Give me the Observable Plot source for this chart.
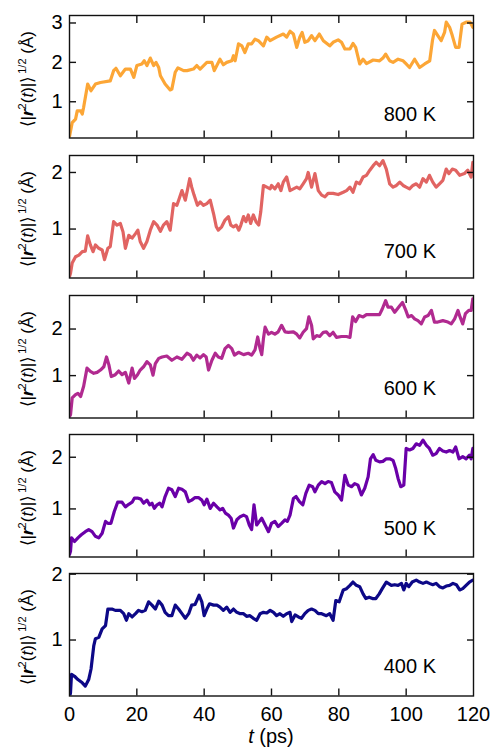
<!DOCTYPE html>
<html><head><meta charset="utf-8">
<script src="https://cdn.jsdelivr.net/npm/d3@7"></script>
<script src="https://cdn.jsdelivr.net/npm/@observablehq/plot@0.6"></script>
<style>
body{margin:0;background:#fff;}
#chart{position:relative;width:494px;height:749px;font-family:"Liberation Sans",Arial,sans-serif;}
#chart svg{position:absolute;left:0;}
</style></head><body><div id="chart"></div>
<script>
// [t (ps), sqrt(<|r^2(t)|>) (Å)]
const s800 = [[0,0.12],[0.8,0.47],[1.8,0.56],[2.3,0.77],[3.3,0.77],[3.8,0.69],[4.2,0.86],[5.4,1.45],[6.4,1.28],[7.7,1.45],[9.2,1.49],[12.1,1.53],[13.1,1.79],[13.8,1.85],[15.1,1.66],[16.6,1.83],[18.1,1.83],[19.1,1.62],[20,1.92],[21.5,1.96],[22.2,2.04],[23,1.92],[24,2.11],[25,1.92],[25.7,2.00],[26.5,1.87],[27,1.66],[28.4,1.45],[29.9,1.30],[30.4,1.32],[31.4,1.75],[32.2,1.86],[33.9,1.79],[34.9,1.79],[36.8,1.83],[37.8,1.92],[38.8,1.83],[40.8,2.00],[42.3,2.00],[43,1.79],[44.7,2.08],[45.7,1.94],[46.7,2.00],[48.2,2.04],[48.7,2.17],[49.2,2.04],[50.2,2.47],[51.2,2.42],[52.1,2.25],[53.1,2.47],[54.1,2.47],[55.1,2.59],[56.1,2.55],[57.6,2.42],[58.6,2.64],[59.6,2.55],[61.5,2.64],[63.5,2.72],[64.5,2.64],[65.5,2.79],[66.5,2.72],[67.5,2.38],[68.4,2.64],[69.1,2.76],[69.9,2.51],[70.9,2.55],[71.9,2.68],[72.9,2.55],[74.2,2.72],[75.4,2.55],[77.3,2.42],[78.3,2.51],[79.8,2.57],[80.8,2.51],[81.8,2.34],[83.3,2.34],[84.2,2.48],[85,2.38],[86.2,1.96],[87.2,2.08],[88.2,1.97],[90.2,2.06],[92.1,2.04],[93.1,2.11],[93.9,2.21],[95.1,2.04],[96.1,2.00],[97.6,2.08],[99.1,2.04],[100,1.96],[101,1.87],[102.5,2.08],[104,1.87],[105.5,1.96],[107,2.04],[107.8,2.55],[108.4,2.81],[109.4,2.68],[110.4,2.55],[111.4,2.76],[111.9,3.02],[112.9,2.89],[113.7,2.68],[114.7,2.38],[115.7,2.38],[116.6,2.97],[117.8,3.02],[119,3.02],[119.8,2.89],[120,2.89]];
const s700 = [[0,0.16],[0.3,0.22],[0.8,0.40],[1.8,0.51],[2.8,0.54],[3.8,0.60],[4.7,0.61],[5.4,0.88],[6.2,0.72],[7.0,0.60],[7.7,0.72],[8.7,0.66],[9.7,0.63],[10.4,0.46],[11.4,0.66],[12.1,0.69],[13.1,1.13],[14.1,1.07],[15.1,1.10],[15.9,0.95],[16.6,0.66],[17.6,0.89],[18.6,0.84],[19.6,0.92],[20.3,0.98],[21.0,0.78],[22.0,0.66],[23.0,0.78],[24.0,0.98],[25.0,1.13],[26.0,1.07],[27.0,0.96],[27.9,1.07],[28.9,1.13],[29.9,0.98],[30.9,1.45],[31.9,1.42],[32.6,1.54],[33.4,1.68],[34.4,1.51],[35.1,1.71],[35.7,1.89],[36.3,1.74],[37.0,1.60],[38.0,1.42],[38.8,1.48],[39.8,1.42],[40.8,1.45],[41.8,1.51],[42.8,1.27],[43.6,1.04],[44.2,0.98],[45.2,1.04],[46.2,1.16],[47.2,1.22],[47.9,1.07],[48.7,1.04],[49.5,1.07],[50.3,0.98],[50.9,1.07],[51.7,1.22],[52.4,1.13],[53.1,1.25],[53.8,1.10],[54.6,1.25],[55.4,1.13],[56.2,1.07],[56.8,1.30],[57.6,1.77],[58.6,1.74],[59.6,1.71],[60.0,1.77],[61.0,1.71],[62.0,1.80],[62.8,1.68],[63.5,1.83],[64.5,1.92],[65.5,1.68],[66.5,1.71],[67.5,1.74],[68.4,1.71],[69.4,1.80],[70.4,1.89],[70.9,2.00],[71.9,1.74],[72.9,1.98],[73.9,1.68],[74.9,1.60],[75.9,1.57],[76.8,1.63],[78.3,1.63],[79.8,1.61],[81.3,1.65],[82.3,1.68],[83.3,1.74],[84.2,1.65],[85.2,1.83],[86.2,1.80],[87.2,1.92],[88.2,1.95],[89.2,2.04],[90.2,2.12],[91.1,2.18],[92.1,2.12],[93.1,2.21],[94.1,2.06],[95.1,1.80],[96.1,1.74],[97.1,1.77],[98.1,1.83],[99.1,1.77],[100.0,1.74],[101.0,1.71],[102.0,1.77],[103.0,1.80],[104.0,1.74],[105.0,1.89],[106.0,1.83],[106.9,1.95],[107.9,1.83],[108.9,1.74],[109.9,1.80],[110.9,1.86],[111.9,2.06],[112.7,1.98],[113.7,2.06],[114.7,2.04],[115.9,1.95],[117.3,1.98],[118.3,2.04],[119.3,1.92],[119.8,2.18],[120,2.18]];
const s600 = [[0,0.12],[0.3,0.16],[0.8,0.52],[1.8,0.59],[2.5,0.62],[3.3,0.55],[4.2,0.77],[5.2,1.16],[6.2,1.09],[7.2,1.05],[8.2,1.07],[9.2,1.12],[10.2,1.19],[11.0,1.40],[11.7,1.23],[12.4,0.98],[13.6,1.02],[14.6,1.10],[15.6,1.02],[16.6,1.07],[17.6,0.84],[18.6,1.16],[19.3,0.94],[20.2,1.02],[21.0,1.12],[22.0,1.19],[23.0,1.30],[24.0,1.23],[24.8,1.01],[25.5,1.26],[26.5,1.37],[27.5,1.40],[28.9,1.42],[30.4,1.33],[31.9,1.40],[33.4,1.35],[34.9,1.48],[35.9,1.44],[36.8,1.33],[37.8,1.44],[38.8,1.38],[39.8,1.45],[40.6,1.40],[41.3,1.12],[42.3,1.33],[43.3,1.48],[44.2,1.40],[45.2,1.37],[46.2,1.58],[47.2,1.65],[48.2,1.58],[49.0,1.44],[50.2,1.50],[51.7,1.45],[53.1,1.48],[54.1,1.44],[55.1,1.55],[55.9,1.83],[56.6,1.58],[57.1,1.45],[57.6,1.79],[58.1,2.04],[59.1,1.89],[60.0,1.93],[61.0,1.89],[62.0,1.94],[63.0,2.08],[64.0,1.94],[65.0,1.93],[66.5,1.94],[67.5,1.89],[68.4,1.81],[69.4,1.93],[70.4,2.01],[71.1,2.26],[71.9,2.08],[72.4,1.79],[73.4,1.86],[74.3,1.84],[75.4,1.93],[76.3,1.94],[77.3,1.86],[78.3,1.93],[79.3,1.82],[80.8,1.84],[82.3,1.84],[83.3,1.82],[84.1,2.26],[85.0,2.16],[86.0,2.29],[87.2,2.26],[88.2,2.31],[89.6,2.31],[91.1,2.31],[92.1,2.31],[92.9,2.43],[93.9,2.61],[94.6,2.47],[95.6,2.47],[96.6,2.36],[98.1,2.50],[98.9,2.57],[99.9,2.40],[100.6,2.26],[101.6,2.29],[102.5,2.22],[103.5,2.18],[104.5,2.11],[105.5,2.26],[106.5,2.29],[107.5,2.40],[108.4,2.15],[109.4,2.15],[110.9,2.18],[112.4,2.15],[113.4,2.11],[114.4,2.22],[115.4,2.40],[116.0,2.26],[116.8,2.11],[117.6,2.33],[118.6,2.40],[119.3,2.40],[119.8,2.65],[120,2.65]];
const s500 = [[0,0.12],[0.3,0.18],[0.6,0.44],[1.5,0.37],[2.5,0.44],[3.5,0.50],[4.7,0.56],[5.7,0.60],[6.7,0.56],[7.7,0.47],[8.7,0.44],[9.7,0.53],[10.7,0.76],[11.4,0.72],[12.3,0.72],[13.3,0.95],[14.3,1.13],[15.6,1.13],[16.6,1.04],[17.6,1.09],[18.6,1.13],[19.3,1.21],[20.2,1.21],[21.2,1.19],[22.0,1.11],[23.0,1.17],[23.8,1.08],[24.5,1.11],[25.2,1.01],[26.0,1.08],[26.8,1.11],[27.5,1.04],[28.4,1.24],[29.4,1.40],[30.4,1.37],[31.4,1.24],[32.4,1.40],[33.4,1.38],[34.4,1.33],[35.4,1.14],[36.3,1.17],[37.3,1.22],[38.3,1.22],[39.3,1.17],[40.0,1.08],[40.8,1.19],[41.8,1.01],[42.8,1.11],[43.8,1.04],[44.7,0.98],[45.5,1.01],[46.3,0.92],[47.2,0.88],[48.0,0.82],[48.7,0.63],[49.7,0.79],[50.7,0.85],[51.7,0.88],[52.6,0.85],[53.4,0.69],[54.1,0.60],[54.8,1.08],[55.6,0.69],[56.4,0.76],[57.1,0.82],[58.1,0.69],[59.1,0.56],[60.0,0.72],[61.0,0.76],[62.0,0.66],[63.0,0.72],[64.0,0.79],[64.7,0.76],[65.5,0.88],[66.5,1.20],[67.3,1.24],[68.3,1.14],[69.3,1.08],[70.2,1.30],[71.2,1.46],[72.2,1.43],[72.9,1.33],[73.9,1.46],[74.9,1.53],[75.9,1.49],[76.8,1.53],[77.8,1.51],[78.8,1.33],[79.8,1.27],[80.8,1.17],[81.8,1.65],[82.8,1.46],[83.8,1.43],[84.7,1.49],[85.7,1.46],[86.7,1.27],[87.7,1.40],[88.7,1.62],[89.4,1.97],[90.2,2.05],[91.0,1.94],[92.1,1.91],[93.1,1.92],[94.1,1.97],[95.1,1.97],[96.1,1.94],[96.9,1.78],[97.6,1.59],[98.4,1.43],[99.3,1.46],[100.0,2.17],[101.0,2.14],[102.0,2.17],[103.0,2.26],[104.0,2.23],[105.0,2.33],[106.0,2.23],[106.9,2.17],[107.9,2.04],[108.9,2.07],[109.9,2.17],[110.9,2.12],[111.9,2.10],[112.9,2.13],[113.9,2.10],[114.7,2.20],[115.7,1.97],[116.8,2.01],[117.8,1.97],[118.8,2.04],[119.3,1.97],[119.8,2.17],[120,2.17]];
const s400 = [[0,0.12],[0.3,0.20],[0.6,0.48],[1.5,0.45],[2.5,0.40],[3.8,0.35],[4.7,0.30],[5.7,0.40],[6.4,0.56],[7.2,0.91],[7.7,1.02],[8.7,1.04],[9.7,1.17],[10.7,1.22],[11.4,1.47],[12.6,1.47],[13.6,1.45],[15.1,1.45],[16.1,1.40],[16.9,1.30],[17.6,1.40],[18.6,1.35],[19.6,1.40],[20.5,1.45],[21.5,1.43],[22.5,1.45],[23.5,1.58],[24.5,1.53],[25.5,1.47],[26.5,1.59],[27.5,1.53],[28.4,1.42],[29.4,1.37],[30.4,1.37],[31.4,1.53],[32.4,1.47],[33.4,1.40],[34.4,1.33],[35.4,1.40],[36.3,1.53],[37.3,1.54],[37.8,1.60],[38.5,1.68],[39.3,1.58],[40.0,1.37],[40.8,1.47],[41.6,1.55],[42.8,1.53],[43.8,1.53],[44.7,1.50],[45.7,1.45],[46.7,1.50],[47.7,1.42],[48.7,1.47],[49.7,1.42],[50.7,1.40],[51.7,1.40],[52.6,1.36],[53.6,1.37],[54.6,1.33],[55.6,1.30],[56.6,1.40],[57.6,1.42],[58.6,1.41],[59.6,1.45],[60.6,1.42],[61.5,1.37],[62.5,1.40],[63.5,1.36],[64.5,1.40],[65.5,1.42],[66.0,1.28],[67.0,1.38],[68.0,1.35],[68.9,1.33],[69.9,1.40],[70.9,1.45],[71.9,1.47],[72.9,1.45],[73.9,1.40],[74.9,1.40],[76.3,1.37],[77.3,1.40],[78.3,1.30],[79.1,1.60],[80.1,1.58],[81.3,1.76],[82.3,1.78],[83.3,1.83],[84.2,1.88],[85.2,1.83],[86.2,1.81],[87.2,1.70],[88.0,1.63],[89.0,1.65],[90.0,1.63],[91.0,1.63],[92.0,1.70],[92.9,1.78],[94.1,1.88],[95.6,1.83],[96.6,1.84],[97.6,1.83],[98.6,1.86],[99.3,1.76],[100.0,1.86],[100.8,1.81],[101.8,1.88],[103.0,1.91],[104.0,1.88],[105.0,1.86],[106.0,1.88],[106.9,1.86],[107.9,1.84],[108.9,1.86],[109.9,1.81],[110.9,1.79],[111.9,1.82],[112.9,1.83],[113.9,1.86],[114.9,1.84],[115.9,1.76],[116.8,1.78],[117.8,1.83],[118.8,1.88],[119.8,1.91],[120,1.91]];

const series = [s800, s700, s600, s500, s400];
const labels = ["800 K", "700 K", "600 K", "500 K", "400 K"];
const colors = ["#fca636", "#e16462", "#b12a90", "#6a00a8", "#0d0887"];
const yDomains = [[0.08, 3.19], [0.135, 2.30], [0.09, 2.72], [0.07, 2.44], [0.15, 2.01]];
const yTicks = [[1, 2, 3], [1, 2], [1, 2], [1, 2], [1, 2]];
const xTicks = [0, 20, 40, 60, 80, 100, 120];
const xInner = [20, 40, 60, 80, 100];

// layout
const frameTops = [15, 155, 295, 434, 573];
const innerH = 122.5;
const mt = 10;
const labelDy = [-23, -26.5, -29, -28, -29];
const TK = 7;

const chart = document.getElementById("chart");

series.forEach((s, i) => {
  const last = i === series.length - 1;
  const mb = last ? 749 - (frameTops[i] + innerH) : 10;
  const data = s.map(([t, r]) => ({t, r}));
  const svg = Plot.plot({
    width: 494,
    height: mt + innerH + mb,
    marginLeft: 69,
    marginRight: 21,
    marginTop: mt,
    marginBottom: mb,
    x: {domain: [0, 120]},
    y: {domain: yDomains[i]},
    style: {fontFamily: '"Liberation Sans", Arial, sans-serif', fontSize: "20px", color: "black", background: "transparent", overflow: "visible"},
    marks: [
      Plot.line(data, {x: "t", y: "r", stroke: colors[i], strokeWidth: 3.2, clip: true, strokeLinejoin: "round"}),
      Plot.frame({stroke: "#111", strokeWidth: 1.4}),
      Plot.axisY(yTicks[i], {anchor: "left", tickSize: 0, tickPadding: 7, fontSize: 20, label: null, tickFormat: d3.format("d")}),
      Plot.axisY(yTicks[i], {anchor: "left", tickSize: TK, dx: TK, text: null, label: null, stroke: "#111", strokeWidth: 1.4}),
      Plot.axisY(yTicks[i], {anchor: "right", tickSize: TK, dx: -TK, text: null, label: null, stroke: "#111", strokeWidth: 1.4}),
      Plot.axisX(xInner, {anchor: "top", tickSize: TK, dy: TK, text: null, label: null, stroke: "#111", strokeWidth: 1.4}),
      Plot.axisX(xInner, {anchor: "bottom", tickSize: TK, dy: -TK, text: null, label: null, stroke: "#111", strokeWidth: 1.4}),
      last ? Plot.axisX(xTicks, {anchor: "bottom", tickSize: 0, tickPadding: 11, fontSize: 20, label: null, tickFormat: d3.format("d")}) : null,
      Plot.text([labels[i]], {frameAnchor: "bottom-right", text: d => d, textAnchor: "end", lineAnchor: "middle", dx: -37.5, dy: labelDy[i], fontSize: 20, fill: "black"})
    ]
  });
  svg.style.top = (frameTops[i] - mt) + "px";
  chart.appendChild(svg);

  // y-axis label with rich text
  const cy = mt + innerH / 2 + 3;
  const tx = d3.select(svg).append("text")
    .attr("transform", `translate(33,${cy}) rotate(-90)`)
    .attr("text-anchor", "middle")
    .attr("font-size", 17)
    .attr("fill", "black");
  tx.append("tspan").text("\u27E8|");
  tx.append("tspan").attr("font-weight", "bold").attr("font-style", "italic").text("r");
  tx.append("tspan").attr("font-size", 11).attr("dy", -7).text("2");
  tx.append("tspan").attr("dy", 7).text("(");
  tx.append("tspan").attr("font-style", "italic").text("t");
  tx.append("tspan").text(")|\u27E9");
  tx.append("tspan").attr("font-size", 11).attr("dy", -7).attr("dx", 2).text("1/2");
  tx.append("tspan").attr("dy", 7).text(" (\u00C5)");

  if (last) {
    const xl = d3.select(svg).append("text")
      .attr("x", 69 + (494 - 69 - 21) / 2)
      .attr("y", mt + innerH + 47)
      .attr("text-anchor", "middle")
      .attr("font-size", 20)
      .attr("fill", "black");
    xl.append("tspan").attr("font-style", "italic").text("t");
    xl.append("tspan").text(" (ps)");
  }
});
</script>
</body></html>
